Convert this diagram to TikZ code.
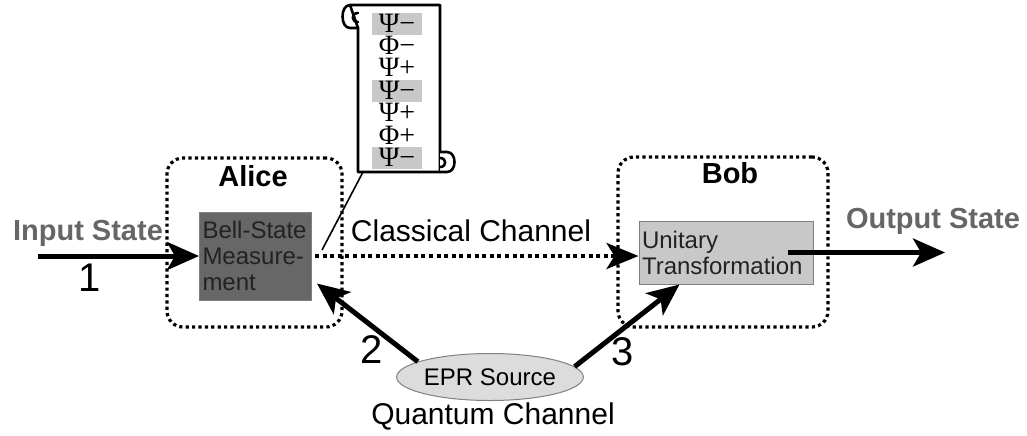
\documentclass[tikz,border=0pt]{standalone}
\usepackage{fontspec}
\setmainfont{Liberation Sans}
\newfontfamily\grkfont{Liberation Serif}
\usetikzlibrary{arrows.meta,shapes.geometric,positioning}
\definecolor{bsmgray}  {HTML}{676767}
\definecolor{unigray}  {HTML}{C8C8C8}
\definecolor{eprgray}  {HTML}{DCDCDC}
\definecolor{labelgray}{HTML}{666666}
\definecolor{textdark} {HTML}{222222}

\begin{document}
\begin{tikzpicture}[
  x=0.5pt, y=-0.5pt,
  party/.style={draw,line width=1.6pt,dash pattern=on 1.6pt off 1.6pt,
                rounded corners=8pt,inner sep=0pt},
  partylbl/.style={font=\bfseries\fontsize{14.5}{15}\selectfont},
  devbox/.style={draw=gray,line width=0.5pt,align=left,inner sep=1.5pt,
                 text=textdark,font=\fontsize{12}{13}\selectfont},
  statelbl/.style={text=labelgray,font=\bfseries\fontsize{14.5}{15}\selectfont},
  chanlbl/.style={font=\fontsize{15}{16}\selectfont},
  num/.style={font=\fontsize{20}{20}\selectfont},
  arr/.style={-{Stealth[length=16pt,width=14pt,inset=4pt]},line width=2.5pt},
  classical/.style={-{Stealth[length=16pt,width=13pt,inset=4pt]},line width=2pt,
                    dash pattern=on 2pt off 1.8pt},
  scrollline/.style={line width=1.3pt,line cap=round,line join=round},
  bellrow/.style={inner sep=0pt,text height=9pt,text depth=1pt,
                  font=\grkfont\fontsize{14}{14}\selectfont},
  bellhl/.style={bellrow,fill=unigray,minimum width=25pt,minimum height=11pt}
]
\useasboundingbox (0,0) rectangle (1027,435);

% --- Alice und Bob ---
\node[party,minimum width=87.5pt,minimum height=84.5pt] (alice) at (254.5,242.5) {};
\node[party,minimum width=105pt,minimum height=85pt]    (bob)   at (723,242) {};
\node[partylbl] (alicelbl) at (253,176) {Alice};
\node[partylbl] (boblbl)   at (730,173) {Bob};

\node[devbox,fill=bsmgray,text width=53pt,minimum height=44pt] (bsm) at (255.5,256)
  {\mbox{Bell-State}\\\mbox{Measure-}\\ment};
\node[devbox,fill=unigray,text width=84pt,minimum height=31.5pt] (unit) at (726,252.5)
  {Unitary\\Transformation};

\node[ellipse,draw=gray,line width=0.5pt,fill=eprgray,minimum width=82.5pt,
      minimum height=23.5pt,inner sep=0pt,font=\fontsize{12}{13}\selectfont] (epr) at (490,377) {EPR Source};

% --- Ein- und Ausgang ---
\coordinate (inp)  at (38,256);
\coordinate (outp) at (945,252.5);
\draw[arr] (inp) -- (bsm.west);
\draw[arr] ([xshift=-13pt]unit.east) -- (outp);
\node[statelbl] (inlbl)  at (88,233)  {Input State};
\node[statelbl] (outlbl) at (933,221) {Output State};
\node[num] (n1) at (90,278) {1};

% --- Kanaele ---
\draw[classical] ([xshift=1.5pt]bsm.east) -- (bsm.east -| unit.west);
\node[chanlbl] (cllbl) at (471,231) {Classical Channel};
\draw[arr] (epr.168) -- ([xshift=2.5pt,yshift=8.5pt]bsm.south east);
\draw[arr] (epr.7)   -- ([xshift=20.5pt]unit.south west);
\node[num] (n2) at (372,350) {2};
\node[num] (n3) at (623,352) {3};
\node[chanlbl] (qclbl) at (493,416) {Quantum Channel};

% --- Protokoll-Rolle ---
\draw[scrollline,fill=white] (350,5) -- (440,5) -- (440,172) -- (358,172) -- (358,28) -- cycle;
\draw[scrollline] (350,5) .. controls (340,5) and (340,28) .. (350,28) -- (358,28);
\draw[scrollline] (358,13) .. controls (351,13) and (351,22) .. (358,22);
\draw[scrollline,fill=white] (440,152) -- (447,152) .. controls (457,152) and (457,172) .. (447,172) -- (440,172);
\draw[scrollline] (440,158) .. controls (447,158) and (447,167) .. (440,167);
\foreach \sym/\sty [count=\i] in {Ψ−/bellhl,Φ−/bellrow,Ψ+/bellrow,Ψ−/bellhl,
                                  Ψ+/bellrow,Φ+/bellrow,Ψ−/bellhl}
  \node[\sty] (bell\i) at (397,{24+22.4*(\i-1)}) {\sym};
\coordinate (scrollfoot) at (363,172);
\coordinate (callout)    at (322,250);
\draw[line width=0.8pt] (scrollfoot) -- (callout);
\end{tikzpicture}
\end{document}
